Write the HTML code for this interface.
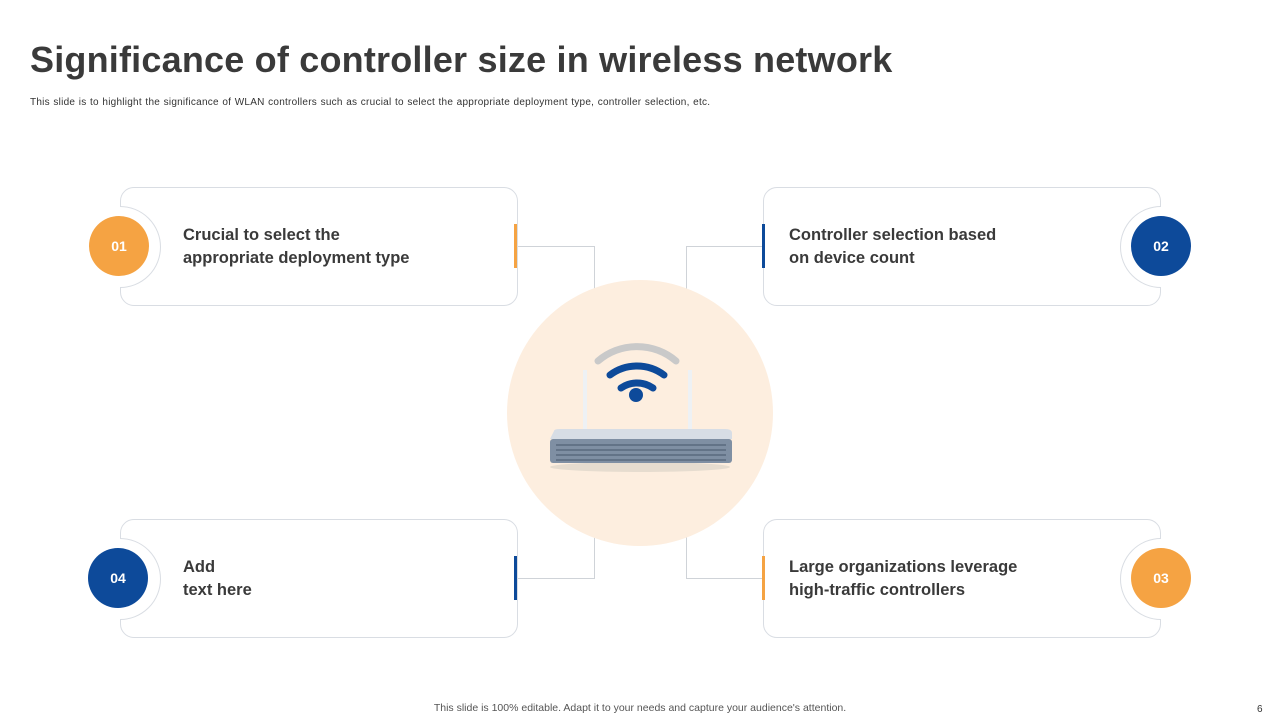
<!DOCTYPE html>
<html><head><style>
body{margin:0;width:1280px;height:720px;background:#fff;font-family:"Liberation Sans",sans-serif;position:relative;overflow:hidden}
.a{position:absolute}
.card{position:absolute;width:396px;height:117px;border:1px solid #d9dde3;border-radius:14px;background:#fff}
.ring{position:absolute;width:80px;height:80px;border-radius:50%;border:1px solid #d9dde3;background:#fff}
.num{position:absolute;width:60px;height:60px;border-radius:50%;color:#fff;font-weight:bold;font-size:14px;text-align:center;line-height:60px}
.t{position:absolute;font-size:16.5px;font-weight:bold;color:#3a3a3a;line-height:23px}
.bar{position:absolute;width:3px;height:44px}
.ln{position:absolute;border-color:#cfd3d8;border-style:solid;border-width:0}
</style></head><body>
<div class="a" style="left:30px;top:39px;font-size:36px;font-weight:bold;color:#3a3a3a;letter-spacing:0.2px">Significance of controller size in wireless network</div>
<div class="a" style="left:30px;top:97px;font-size:10px;color:#333;letter-spacing:0.25px;word-spacing:0.5px">This slide is to highlight the significance of WLAN controllers such as crucial to select the appropriate deployment type, controller selection, etc.</div>

<div class="ln" style="left:517px;top:246px;width:77px;height:50px;border-top-width:1px;border-right-width:1px"></div>
<div class="ln" style="left:686px;top:246px;width:77px;height:50px;border-top-width:1px;border-left-width:1px"></div>
<div class="ln" style="left:517px;top:530px;width:77px;height:48px;border-bottom-width:1px;border-right-width:1px"></div>
<div class="ln" style="left:686px;top:530px;width:77px;height:48px;border-bottom-width:1px;border-left-width:1px"></div>

<div class="a" style="left:507px;top:280px;width:266px;height:266px;border-radius:50%;background:#fdeedf"></div>

<svg class="a" style="left:540px;top:335px" width="210" height="145" viewBox="0 0 210 145">
<path d="M58 26 A60 60 0 0 1 136 26" stroke="#c9c9c9" stroke-width="7" fill="none" stroke-linecap="round"/>
<path d="M70 40 A45 45 0 0 1 124 40" stroke="#0d4a9a" stroke-width="7" fill="none" stroke-linecap="round"/>
<path d="M81 53 A28 28 0 0 1 113 53" stroke="#0d4a9a" stroke-width="7" fill="none" stroke-linecap="round"/>
<circle cx="96" cy="60" r="7" fill="#0d4a9a"/>
<rect x="43" y="35" width="4" height="65" fill="#eef1f4"/>
<rect x="148" y="35" width="4" height="65" fill="#eef1f4"/>
<ellipse cx="100" cy="132" rx="90" ry="5" fill="#e6dccf"/>
<path d="M14 96 Q14 94 20 94 L185 94 Q192 94 192 98 L192 104 L10 104 Z" fill="#d7dde5"/>
<rect x="10" y="104" width="182" height="24" rx="3" fill="#7f8fa3"/>
<g stroke="#5a6a7e" stroke-width="1.5"><line x1="16" y1="110" x2="186" y2="110"/><line x1="16" y1="115" x2="186" y2="115"/><line x1="16" y1="120" x2="186" y2="120"/><line x1="16" y1="125" x2="186" y2="125"/></g>
</svg>

<div class="card" style="left:120px;top:187px"></div>
<div class="card" style="left:763px;top:187px"></div>
<div class="card" style="left:120px;top:519px"></div>
<div class="card" style="left:763px;top:519px"></div>

<div class="ring" style="left:79px;top:206px;clip-path:inset(0 0 0 50%)"></div>
<div class="ring" style="left:79px;top:538px;clip-path:inset(0 0 0 50%)"></div>
<div class="ring" style="left:1120px;top:206px;clip-path:inset(0 50% 0 0)"></div>
<div class="ring" style="left:1120px;top:538px;clip-path:inset(0 50% 0 0)"></div>

<div class="num" style="left:89px;top:216px;background:#f5a343">01</div>
<div class="num" style="left:1131px;top:216px;background:#0d4a9a">02</div>
<div class="num" style="left:1131px;top:548px;background:#f5a343">03</div>
<div class="num" style="left:88px;top:548px;background:#0d4a9a">04</div>

<div class="bar" style="left:514px;top:224px;background:#f5a343"></div>
<div class="bar" style="left:762px;top:224px;background:#0d4a9a"></div>
<div class="bar" style="left:514px;top:556px;background:#0d4a9a"></div>
<div class="bar" style="left:762px;top:556px;background:#f5a343"></div>

<div class="t" style="left:183px;top:224px">Crucial to select the<br>appropriate deployment type</div>
<div class="t" style="left:789px;top:224px">Controller selection based<br>on device count</div>
<div class="t" style="left:183px;top:556px">Add<br>text here</div>
<div class="t" style="left:789px;top:556px">Large organizations leverage<br>high-traffic controllers</div>

<div class="a" style="left:0;width:1280px;text-align:center;top:702px;font-size:10.5px;color:#555">This slide is 100% editable. Adapt it to your needs and capture your audience's attention.</div>
<div class="a" style="left:1257px;top:704px;font-size:10px;color:#333">6</div>
</body></html>
